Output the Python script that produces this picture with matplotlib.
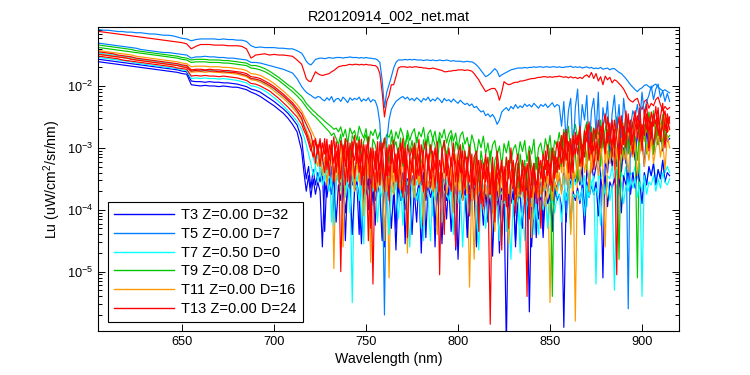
import numpy as np
import matplotlib
matplotlib.use("Agg")
import matplotlib.pyplot as plt
from matplotlib.ticker import LogLocator, NullLocator, NullFormatter

plt.rcParams['font.family'] = ['Liberation Sans', 'DejaVu Sans']
plt.rcParams['axes.unicode_minus'] = False
plt.rcParams['mathtext.default'] = 'regular'

# ---- data: log10(Lu) ----
# 605..712.5 nm every 2.5 nm (44 values), then 715..915 nm every 1.25 nm (161 values)
wavelength = np.concatenate([np.arange(605, 713, 2.5), np.arange(715, 915.01, 1.25)])

log_t5_top = [
    -1.09, -1.10, -1.10, -1.11, -1.12, -1.12, -1.13, -1.13, -1.14, -1.14,
    -1.15, -1.16, -1.16, -1.17, -1.18, -1.18, -1.19, -1.21, -1.23, -1.24,
    -1.27, -1.25, -1.24, -1.24, -1.24, -1.24, -1.25, -1.24, -1.25, -1.25,
    -1.26, -1.26, -1.28, -1.35, -1.38, -1.37, -1.38, -1.38, -1.38, -1.39,
    -1.39, -1.40, -1.40, -1.43,
    -1.47, -1.53, -1.60, -1.64, -1.66, -1.62, -1.57, -1.56,
    -1.55, -1.55, -1.56, -1.55, -1.54, -1.55, -1.55, -1.54,
    -1.54, -1.54, -1.55, -1.54, -1.54, -1.53, -1.54, -1.54,
    -1.54, -1.55, -1.54, -1.55, -1.54, -1.55, -1.55, -1.56,
    -1.56, -1.58, -1.62, -1.90, -2.35, -2.10, -1.98, -1.85,
    -1.71, -1.62, -1.58, -1.58, -1.58, -1.57, -1.58, -1.57,
    -1.58, -1.57, -1.58, -1.58, -1.58, -1.59, -1.58, -1.58,
    -1.59, -1.58, -1.59, -1.59, -1.58, -1.59, -1.59, -1.58,
    -1.59, -1.60, -1.59, -1.60, -1.60, -1.60, -1.61, -1.61,
    -1.60, -1.61, -1.61, -1.63, -1.66, -1.70, -1.75, -1.80,
    -1.85, -1.83, -1.80, -1.76, -1.72, -1.76, -1.85, -1.82,
    -1.80, -1.78, -1.76, -1.74, -1.73, -1.72, -1.71, -1.71,
    -1.71, -1.70, -1.71, -1.70, -1.70, -1.69, -1.70, -1.69,
    -1.69, -1.70, -1.69, -1.69, -1.70, -1.69, -1.69, -1.70,
    -1.69, -1.70, -1.70, -1.69, -1.69, -1.68, -1.70, -1.69,
    -1.70, -1.69, -1.71, -1.70, -1.69, -1.71, -1.70, -1.72,
    -1.71, -1.72, -1.70, -1.73, -1.72, -1.71, -1.74, -1.72,
    -1.72, -1.75, -1.78, -1.80, -1.84, -1.88, -1.93, -1.98,
    -2.02, -2.06, -2.09, -2.05, -2.03, -1.99, -1.98, -2.01,
    -2.04, -1.99, -1.97, -2.02, -2.05, -2.08, -2.06, -2.09,
    -2.11]

log_red_top = [
    -1.12, -1.13, -1.14, -1.15, -1.16, -1.17, -1.18, -1.19, -1.20, -1.21,
    -1.22, -1.23, -1.24, -1.25, -1.26, -1.27, -1.28, -1.29, -1.30, -1.32,
    -1.40, -1.36, -1.33, -1.33, -1.33, -1.34, -1.34, -1.34, -1.35, -1.35,
    -1.35, -1.36, -1.40, -1.55, -1.50, -1.49, -1.48, -1.50, -1.49, -1.50,
    -1.50, -1.51, -1.52, -1.58,
    -1.65, -1.76, -1.88, -1.92, -1.93, -1.85, -1.77, -1.80,
    -1.82, -1.83, -1.82, -1.81, -1.80, -1.77, -1.75, -1.72,
    -1.69, -1.68, -1.67, -1.67, -1.66, -1.65, -1.66, -1.65,
    -1.65, -1.66, -1.65, -1.66, -1.65, -1.66, -1.66, -1.67,
    -1.67, -1.70, -1.80, -2.10, -2.50, -2.25, -2.15, -1.98,
    -1.98, -1.85, -1.71, -1.69, -1.69, -1.69, -1.70, -1.69,
    -1.70, -1.69, -1.69, -1.70, -1.70, -1.71, -1.71, -1.72,
    -1.72, -1.71, -1.72, -1.73, -1.74, -1.75, -1.77, -1.77,
    -1.76, -1.76, -1.75, -1.75, -1.74, -1.74, -1.74, -1.75,
    -1.74, -1.75, -1.76, -1.80, -1.85, -1.90, -1.97, -2.03,
    -2.09, -2.07, -2.05, -2.04, -2.04, -2.10, -2.23, -2.10,
    -1.93, -1.96, -1.98, -1.97, -1.95, -1.94, -1.94, -1.92,
    -1.92, -1.91, -1.90, -1.89, -1.88, -1.88, -1.87, -1.86,
    -1.86, -1.85, -1.85, -1.86, -1.85, -1.86, -1.85, -1.85,
    -1.84, -1.85, -1.86, -1.85, -1.87, -1.85, -1.87, -1.86,
    -1.88, -1.86, -1.88, -1.84, -1.82, -1.86, -1.78, -1.88,
    -1.80, -1.92, -1.85, -1.98, -1.84, -1.90, -1.86, -1.95,
    -1.90, -1.92, -1.96, -2.00, -2.05, -2.12, -2.20, -2.24,
    -2.26, -2.22, -2.20, -2.32, -2.38, -2.25, -2.22, -2.36,
    -2.28, -2.32, -2.22, -2.18, -2.30, -2.40, -2.33, -2.38,
    -2.35]

log_dodger_2 = [
    -1.31, -1.32, -1.33, -1.34, -1.35, -1.36, -1.37, -1.38, -1.39, -1.41,
    -1.42, -1.43, -1.44, -1.45, -1.46, -1.46, -1.47, -1.48, -1.49, -1.50,
    -1.55, -1.53, -1.53, -1.52, -1.53, -1.53, -1.54, -1.54, -1.55, -1.55,
    -1.56, -1.57, -1.58, -1.62, -1.62, -1.63, -1.65, -1.67, -1.69, -1.71,
    -1.73, -1.76, -1.79, -1.88,
    -2.01, -2.06, -2.10, -2.13, -2.15, -2.18, -2.20, -2.17,
    -2.18, -2.22, -2.24, -2.19, -2.23, -2.17, -2.26, -2.21,
    -2.20, -2.25, -2.18, -2.22, -2.27, -2.19, -2.23, -2.20,
    -2.22, -2.18, -2.25, -2.21, -2.24, -2.19, -2.26, -2.22,
    -2.24, -2.35, -2.60, -3.30, -5.70, -2.90, -2.55, -2.38,
    -2.31, -2.25, -2.22, -2.19, -2.17, -2.21, -2.18, -2.23,
    -2.20, -2.24, -2.19, -2.22, -2.26, -2.20, -2.23, -2.18,
    -2.25, -2.21, -2.24, -2.19, -2.22, -2.27, -2.20, -2.24,
    -2.22, -2.26, -2.21, -2.25, -2.28, -2.23, -2.27, -2.30,
    -2.28, -2.32, -2.29, -2.35, -2.33, -2.38, -2.42, -2.40,
    -2.48, -2.45, -2.50, -2.46, -2.52, -2.62, -2.55, -2.42,
    -2.38, -2.35, -2.40, -2.33, -2.37, -2.30, -2.36, -2.32,
    -2.35, -2.29, -2.33, -2.30, -2.34, -2.28, -2.32, -2.36,
    -2.30, -2.33, -2.29, -2.35, -2.31, -2.27, -2.34, -2.30,
    -2.32, -2.65, -2.25, -2.90, -2.40, -2.20, -3.10, -2.35,
    -2.05, -2.80, -2.30, -2.55, -2.15, -3.05, -2.40, -2.20,
    -2.75, -2.10, -3.20, -2.35, -2.60, -2.25, -2.95, -2.45,
    -2.15, -2.70, -2.30, -2.90, -2.20, -2.55, -5.60, -2.65,
    -2.40, -2.50, -2.30, -2.60, -2.10, -2.45, -2.25, -2.15,
    -2.00, -2.22, -2.05, -1.97, -2.18, -2.08, -2.25, -2.12,
    -2.25]

log_green_a = [
    -1.34, -1.35, -1.36, -1.37, -1.38, -1.39, -1.40, -1.41, -1.43, -1.44,
    -1.45, -1.46, -1.47, -1.48, -1.49, -1.50, -1.51, -1.52, -1.54, -1.55,
    -1.58, -1.57, -1.57, -1.57, -1.58, -1.58, -1.58, -1.59, -1.59, -1.60,
    -1.61, -1.62, -1.63, -1.67, -1.67, -1.69, -1.72, -1.76, -1.81, -1.86,
    -1.92, -1.98, -2.03, -2.10,
    -2.17, -2.22, -2.28, -2.32, -2.36, -2.40, -2.43, -2.47,
    -2.50, -2.53, -2.57, -2.60, -2.63, -2.66, -2.70, -2.68,
    -2.74, -2.66, -2.82, -2.70, -2.93, -2.68, -2.78, -2.72,
    -2.88, -2.65, -2.76, -2.84, -2.69, -2.97, -2.73, -2.80,
    -2.70, -2.86, -2.75, -3.05, -2.92, -2.78, -2.83, -2.71,
    -2.94, -2.74, -2.85, -2.68, -2.79, -3.00, -2.72, -2.88,
    -2.76, -2.69, -2.91, -2.74, -2.82, -2.67, -2.95, -2.77,
    -2.71, -2.86, -2.73, -2.99, -2.75, -2.84, -2.70, -2.92,
    -2.78, -2.72, -2.89, -2.76, -3.02, -2.80, -2.74, -2.94,
    -2.83, -3.05, -2.79, -2.92, -3.15, -2.86, -3.00, -2.81,
    -3.10, -2.92, -3.20, -2.95, -2.88, -3.12, -2.97, -3.30,
    -2.93, -3.08, -2.89, -3.25, -3.02, -2.95, -3.18, -2.90,
    -3.06, -2.88, -3.22, -2.97, -3.10, -2.86, -3.35, -3.00,
    -2.92, -3.15, -2.85, -3.05, -2.80, -3.20, -2.88, -2.98,
    -2.75, -3.00, -2.70, -2.92, -2.65, -3.10, -2.78, -2.62,
    -2.85, -2.68, -3.05, -2.72, -2.58, -2.90, -2.66, -2.95,
    -2.60, -2.82, -2.55, -3.00, -2.70, -2.52, -2.88, -2.64,
    -2.78, -2.50, -2.92, -2.62, -2.85, -2.48, -3.10, -2.70,
    -2.58, -2.82, -5.10, -2.45, -2.95, -2.62, -2.75, -2.42,
    -2.68, -2.40, -2.85, -2.55, -2.72, -2.46, -2.90, -2.58,
    -2.55]

log_green_b = [
    -1.38, -1.39, -1.40, -1.41, -1.42, -1.43, -1.44, -1.45, -1.46, -1.47,
    -1.48, -1.49, -1.50, -1.51, -1.52, -1.53, -1.54, -1.55, -1.57, -1.58,
    -1.62, -1.61, -1.61, -1.61, -1.62, -1.62, -1.62, -1.63, -1.63, -1.64,
    -1.65, -1.66, -1.67, -1.71, -1.72, -1.74, -1.77, -1.81, -1.86, -1.91,
    -1.97, -2.03, -2.09, -2.16,
    -2.24, -2.29, -2.34, -2.39, -2.43, -2.47, -2.50, -2.54,
    -2.58, -2.62, -2.66, -2.70, -2.74, -2.80, -2.76, -2.85,
    -2.95, -2.78, -3.10, -2.85, -2.92, -3.20, -2.80, -2.88,
    -3.05, -2.82, -3.15, -2.90, -2.78, -3.00, -3.25, -2.86,
    -2.95, -3.15, -3.40, -3.05, -2.85, -2.98, -3.25, -2.82,
    -3.00, -2.90, -3.12, -2.84, -3.30, -2.95, -2.80, -3.08,
    -2.88, -3.18, -2.83, -2.96, -3.35, -2.87, -3.05, -2.81,
    -3.10, -2.84, -2.95, -3.30, -2.82, -3.05, -2.88, -3.15,
    -2.92, -2.80, -3.20, -2.90, -3.00, -3.40, -2.92, -3.10,
    -3.20, -2.95, -3.40, -3.25, -3.10, -3.55, -3.05, -3.30,
    -3.15, -3.45, -3.05, -3.60, -3.20, -3.10, -3.45, -3.30,
    -3.70, -3.15, -3.35, -3.05, -3.50, -3.25, -3.80, -3.10,
    -3.40, -3.20, -3.65, -3.05, -3.30, -3.55, -3.15, -3.45,
    -3.25, -3.70, -3.10, -3.35, -3.00, -5.40, -3.05, -3.40,
    -3.05, -3.30, -2.85, -3.20, -2.95, -3.40, -2.78, -3.10,
    -3.55, -2.90, -3.15, -2.80, -3.35, -2.95, -3.05, -2.75,
    -3.20, -2.85, -3.30, -2.75, -3.00, -2.70, -3.25, -2.90,
    -2.80, -3.10, -4.80, -2.85, -3.15, -2.72, -3.00, -2.78,
    -3.05, -2.82, -3.20, -2.70, -2.95, -2.65, -3.10, -2.80,
    -2.72, -3.10, -2.65, -2.95, -2.70, -3.00, -2.62, -2.85,
    -2.80]

log_red_a = [
    -1.45, -1.46, -1.47, -1.48, -1.50, -1.51, -1.52, -1.53, -1.55, -1.56,
    -1.57, -1.58, -1.59, -1.60, -1.61, -1.62, -1.63, -1.64, -1.66, -1.67,
    -1.74, -1.73, -1.73, -1.74, -1.73, -1.74, -1.74, -1.75, -1.75, -1.76,
    -1.77, -1.78, -1.80, -1.85, -1.86, -1.88, -1.92, -1.96, -2.01, -2.07,
    -2.13, -2.20, -2.27, -2.36,
    -2.45, -2.54, -2.62, -2.70, -2.78, -2.95, -2.85, -3.10,
    -2.90, -3.20, -2.85, -3.35, -2.95, -3.10, -2.82, -3.40,
    -2.95, -5.00, -3.30, -2.85, -3.55, -2.92, -3.15, -2.80,
    -3.25, -2.88, -3.60, -2.95, -3.20, -2.82, -4.30, -3.00,
    -3.35, -2.90, -3.60, -3.05, -2.84, -3.45, -2.95, -3.25,
    -2.88, -3.50, -3.00, -3.30, -2.85, -3.70, -2.95, -3.15,
    -3.40, -2.92, -3.25, -2.86, -3.55, -3.05, -2.90, -3.35,
    -2.95, -3.20, -3.65, -2.90, -5.05, -3.10, -2.88, -3.45,
    -3.00, -3.30, -2.92, -3.55, -3.10, -2.95, -3.75, -3.05,
    -3.40, -2.98, -3.65, -3.15, -3.05, -4.35, -3.20, -3.50,
    -3.10, -3.60, -5.85, -3.25, -3.70, -3.05, -3.45, -3.20,
    -3.85, -3.15, -3.50, -3.00, -3.65, -3.30, -3.10, -3.75,
    -3.20, -3.45, -5.40, -3.05, -3.60, -3.25, -3.90, -3.15,
    -3.50, -3.10, -3.35, -2.95, -3.60, -3.05, -3.25, -2.90,
    -3.15, -2.80, -3.30, -2.70, -3.05, -2.85, -3.40, -2.75,
    -2.95, -2.65, -3.20, -2.72, -2.90, -2.58, -3.10, -2.68,
    -2.85, -2.55, -3.00, -2.65, -2.45, -2.92, -2.60, -3.15,
    -2.70, -5.05, -2.80, -2.48, -2.95, -2.40, -2.75, -2.55,
    -2.90, -2.45, -2.70, -2.35, -2.85, -2.52, -2.30, -2.78,
    -2.42, -2.65, -2.33, -2.80, -2.50, -2.28, -2.72, -2.45,
    -2.60]

log_red_b = [
    -1.52, -1.53, -1.54, -1.55, -1.56, -1.58, -1.59, -1.60, -1.61, -1.62,
    -1.63, -1.64, -1.65, -1.66, -1.67, -1.68, -1.69, -1.71, -1.72, -1.73,
    -1.84, -1.83, -1.84, -1.83, -1.84, -1.84, -1.85, -1.84, -1.85, -1.86,
    -1.87, -1.89, -1.91, -1.96, -1.97, -2.00, -2.04, -2.08, -2.14, -2.20,
    -2.27, -2.34, -2.42, -2.50,
    -2.62, -2.72, -2.80, -2.92, -3.05, -2.88, -3.25, -2.95,
    -3.30, -2.92, -3.10, -2.86, -3.45, -3.00, -3.25, -2.90,
    -3.15, -3.50, -2.95, -3.30, -2.88, -3.65, -3.05, -3.20,
    -2.92, -3.40, -3.10, -3.75, -2.95, -3.25, -3.05, -5.20,
    -3.05, -3.55, -2.90, -3.30, -3.70, -3.00, -3.45, -2.95,
    -3.40, -3.10, -3.65, -2.92, -3.25, -3.05, -4.45, -3.15,
    -3.00, -3.60, -3.20, -3.45, -2.95, -3.30, -3.80, -3.10,
    -3.50, -3.05, -3.35, -3.10, -3.70, -3.00, -3.40, -3.25,
    -3.60, -3.15, -3.45, -4.60, -3.20, -3.40, -3.05, -3.55,
    -3.15, -4.10, -3.35, -3.60, -3.10, -3.45, -3.90, -3.25,
    -3.55, -3.30, -3.75, -3.15, -4.20, -3.40, -3.60, -3.30,
    -3.45, -3.95, -3.20, -3.60, -3.35, -4.05, -3.25, -3.50,
    -3.70, -3.30, -3.55, -4.15, -3.40, -3.25, -3.80, -3.35,
    -3.20, -3.60, -3.05, -3.45, -3.25, -3.70, -3.15, -3.40,
    -2.90, -3.25, -3.05, -2.80, -3.40, -2.95, -3.15, -2.85,
    -3.10, -2.75, -3.30, -2.90, -2.70, -3.20, -2.85, -3.05,
    -2.70, -3.15, -2.80, -2.60, -3.05, -2.75, -2.95, -2.55,
    -3.00, -2.72, -2.50, -3.10, -2.65, -2.88, -2.45, -2.95,
    -2.60, -2.40, -2.85, -2.55, -3.05, -2.38, -2.70, -2.50,
    -2.85, -2.45, -2.62, -2.35, -2.90, -2.55, -2.40, -2.75,
    -2.50]

log_red_c = [
    -1.49, -1.50, -1.51, -1.52, -1.53, -1.54, -1.55, -1.57, -1.58, -1.59,
    -1.60, -1.61, -1.62, -1.63, -1.64, -1.65, -1.66, -1.67, -1.69, -1.70,
    -1.76, -1.75, -1.76, -1.75, -1.76, -1.76, -1.77, -1.77, -1.78, -1.78,
    -1.79, -1.81, -1.83, -1.88, -1.89, -1.91, -1.95, -1.99, -2.04, -2.10,
    -2.16, -2.23, -2.30, -2.40,
    -2.52, -2.66, -2.75, -2.86, -2.98, -3.15, -2.90, -3.05,
    -2.85, -3.15, -3.40, -2.95, -3.20, -2.88, -3.55, -3.05,
    -3.30, -2.88, -3.10, -3.60, -3.00, -3.35, -2.90, -3.50,
    -3.05, -3.25, -2.86, -3.45, -3.10, -4.50, -3.00, -3.30,
    -3.70, -3.10, -3.35, -2.92, -3.55, -3.20, -3.85, -3.05,
    -3.25, -3.55, -3.05, -3.40, -3.80, -3.00, -3.30, -3.60,
    -3.20, -2.95, -3.50, -3.10, -3.40, -3.70, -3.05, -3.25,
    -3.65, -3.30, -3.00, -3.55, -3.20, -3.45, -4.40, -3.10,
    -3.35, -3.70, -3.10, -3.25, -3.55, -3.00, -3.40, -3.65,
    -3.30, -3.55, -3.10, -3.85, -3.40, -3.20, -3.60, -3.95,
    -3.40, -3.15, -3.65, -3.35, -3.90, -3.25, -3.50, -4.65,
    -3.30, -3.60, -4.30, -3.40, -3.20, -3.75, -3.45, -3.60,
    -3.35, -3.90, -3.25, -3.50, -3.80, -3.30, -3.60, -3.45,
    -4.30, -3.30, -3.55, -3.20, -3.40, -3.00, -3.50, -3.15,
    -3.35, -3.00, -2.75, -3.20, -2.90, -3.50, -2.80, -3.10,
    -2.80, -3.30, -2.95, -3.15, -2.62, -3.00, -2.75, -3.35,
    -2.90, -3.20, -2.65, -2.85, -3.10, -2.50, -2.80, -2.95,
    -2.55, -2.85, -3.20, -2.60, -2.78, -3.00, -2.52, -2.70,
    -3.10, -2.68, -2.48, -2.90, -2.62, -2.80, -2.45, -3.05,
    -2.58, -2.95, -2.70, -2.48, -2.82, -2.62, -3.00, -2.52,
    -2.70]

log_orange_a = [
    -1.43, -1.44, -1.45, -1.46, -1.47, -1.48, -1.49, -1.50, -1.52, -1.53,
    -1.54, -1.55, -1.56, -1.57, -1.58, -1.59, -1.60, -1.61, -1.63, -1.64,
    -1.69, -1.68, -1.68, -1.68, -1.69, -1.69, -1.69, -1.70, -1.70, -1.71,
    -1.72, -1.73, -1.75, -1.80, -1.81, -1.83, -1.87, -1.91, -1.96, -2.02,
    -2.08, -2.15, -2.22, -2.30,
    -2.40, -2.48, -2.55, -2.62, -2.70, -2.78, -2.86, -3.00,
    -2.90, -3.15, -2.95, -3.30, -3.05, -2.92, -4.95, -3.10,
    -3.40, -2.95, -3.25, -3.05, -3.55, -3.00, -3.20, -3.70,
    -3.00, -3.35, -3.10, -2.95, -3.50, -3.15, -4.85, -3.05,
    -3.30, -3.05, -3.60, -3.20, -3.45, -3.00, -5.10, -3.25,
    -3.55, -3.10, -3.35, -3.80, -3.05, -3.40, -3.20, -3.65,
    -3.15, -3.45, -3.00, -3.70, -3.25, -3.10, -3.55, -3.30,
    -3.05, -3.60, -3.20, -3.40, -3.85, -3.15, -3.35, -3.05,
    -3.50, -3.25, -3.70, -3.10, -3.45, -3.90, -3.20, -3.40,
    -3.35, -5.25, -3.55, -3.15, -3.75, -3.30, -3.50, -3.90,
    -3.25, -3.60, -3.40, -4.05, -3.30, -3.70, -3.45, -3.20,
    -3.65, -3.35, -3.85, -3.50, -3.25, -4.10, -3.45, -3.70,
    -3.40, -3.75, -3.30, -3.60, -3.95, -3.35, -3.55, -3.80,
    -3.45, -3.25, -3.65, -3.35, -5.50, -3.50, -3.20, -3.55,
    -3.10, -3.40, -2.95, -3.25, -3.50, -3.00, -3.30, -5.80,
    -3.05, -2.85, -3.30, -2.95, -3.15, -2.75, -3.40, -2.90,
    -3.20, -2.80, -3.05, -2.70, -3.25, -2.90, -2.65, -3.10,
    -2.85, -3.15, -2.70, -2.95, -2.60, -3.20, -2.80, -2.68,
    -3.00, -2.75, -2.58, -3.10, -2.70, -2.90, -2.55, -2.85,
    -2.65, -3.05, -2.55, -2.80, -2.60, -2.95, -2.50, -2.75,
    -2.70]

log_orange_b = [
    -1.49, -1.50, -1.51, -1.52, -1.53, -1.54, -1.55, -1.56, -1.58, -1.59,
    -1.60, -1.61, -1.62, -1.63, -1.64, -1.65, -1.66, -1.67, -1.69, -1.70,
    -1.78, -1.77, -1.77, -1.78, -1.77, -1.78, -1.78, -1.79, -1.79, -1.80,
    -1.81, -1.83, -1.85, -1.90, -1.91, -1.94, -1.98, -2.02, -2.08, -2.14,
    -2.20, -2.27, -2.35, -2.44,
    -2.55, -2.64, -2.72, -2.80, -2.90, -3.00, -3.15, -3.30,
    -3.05, -3.45, -3.15, -3.60, -3.20, -3.05, -3.50, -3.25,
    -3.55, -3.15, -4.60, -3.30, -3.10, -3.50, -3.25, -3.70,
    -3.20, -3.55, -3.30, -4.10, -3.25, -3.45, -3.15, -3.65,
    -3.40, -3.70, -3.25, -3.55, -4.50, -3.30, -3.60, -3.35,
    -3.75, -3.30, -3.55, -3.20, -3.70, -3.40, -4.70, -3.30,
    -3.50, -3.80, -3.35, -3.60, -3.25, -4.25, -3.45, -3.65,
    -3.35, -3.70, -3.50, -4.40, -3.40, -3.60, -3.30, -3.75,
    -3.55, -3.35, -4.05, -3.50, -3.70, -3.35, -3.85, -3.55,
    -3.75, -3.45, -3.65, -4.80, -3.50, -3.70, -3.40, -4.00,
    -3.60, -3.85, -3.50, -3.70, -4.35, -3.55, -3.80, -3.45,
    -3.85, -3.60, -4.55, -3.70, -3.50, -3.95, -3.65, -3.80,
    -3.55, -3.90, -3.70, -3.50, -4.45, -3.60, -3.80, -3.55,
    -3.75, -3.45, -3.95, -3.60, -3.40, -3.85, -3.55, -3.70,
    -3.40, -3.75, -3.25, -3.60, -3.10, -4.40, -3.30, -3.50,
    -3.20, -3.55, -3.05, -3.40, -3.15, -3.70, -3.00, -3.35,
    -3.10, -3.45, -2.95, -3.30, -4.60, -3.05, -3.25, -2.90,
    -3.35, -3.00, -3.50, -2.85, -3.20, -3.05, -3.40, -2.95,
    -3.15, -2.90, -3.45, -3.05, -2.80, -3.30, -2.95, -3.20,
    -2.85, -3.25, -3.00, -2.75, -3.15, -2.90, -3.35, -2.80,
    -3.00]

log_cyan_a = [
    -1.47, -1.48, -1.49, -1.50, -1.51, -1.52, -1.53, -1.54, -1.56, -1.57,
    -1.58, -1.59, -1.60, -1.61, -1.62, -1.63, -1.64, -1.65, -1.67, -1.68,
    -1.76, -1.75, -1.75, -1.76, -1.75, -1.76, -1.76, -1.77, -1.77, -1.78,
    -1.79, -1.81, -1.83, -1.88, -1.89, -1.92, -1.96, -2.00, -2.05, -2.11,
    -2.17, -2.24, -2.32, -2.41,
    -2.52, -2.62, -2.70, -2.82, -2.95, -3.15, -3.30, -3.10,
    -3.40, -3.20, -3.55, -3.30, -3.15, -4.20, -3.30, -3.50,
    -3.35, -3.55, -3.25, -3.70, -3.40, -3.50, -5.50, -3.30,
    -3.55, -3.35, -4.30, -3.30, -3.60, -3.40, -3.50, -3.35,
    -3.65, -3.40, -3.50, -4.45, -3.35, -3.60, -3.45, -3.70,
    -3.45, -3.65, -3.35, -3.55, -4.25, -3.45, -3.60, -3.40,
    -3.70, -3.45, -3.60, -3.40, -3.75, -4.50, -3.35, -3.65,
    -3.55, -4.10, -3.45, -3.65, -3.40, -3.80, -3.50, -3.60,
    -3.45, -3.70, -4.40, -3.55, -3.65, -3.45, -3.75, -3.50,
    -3.70, -3.50, -3.85, -3.60, -4.55, -3.55, -3.75, -3.60,
    -3.80, -3.60, -3.70, -4.60, -3.55, -3.85, -3.65, -3.75,
    -3.60, -4.35, -3.70, -3.55, -3.90, -3.65, -3.80, -4.70,
    -3.70, -3.60, -3.85, -3.65, -3.55, -4.40, -3.75, -3.65,
    -3.85, -3.60, -3.70, -4.25, -3.65, -3.80, -3.55, -3.75,
    -3.55, -3.70, -3.45, -4.05, -3.50, -3.65, -3.40, -3.60,
    -3.50, -3.35, -3.65, -3.45, -3.95, -3.40, -3.60, -3.45,
    -5.20, -3.40, -3.55, -3.35, -3.70, -3.45, -3.50, -3.30,
    -3.55, -3.35, -3.65, -3.40, -3.50, -3.30, -3.60, -3.40,
    -3.45, -3.30, -3.50, -3.25, -5.40, -3.40, -3.55, -3.35,
    -3.45, -3.25, -3.55, -3.35, -3.50, -3.20, -3.40, -3.30,
    -3.40]

log_cyan_b = [
    -1.54, -1.55, -1.56, -1.57, -1.58, -1.59, -1.60, -1.61, -1.63, -1.64,
    -1.65, -1.66, -1.67, -1.68, -1.69, -1.70, -1.71, -1.72, -1.74, -1.75,
    -1.88, -1.87, -1.88, -1.87, -1.88, -1.88, -1.89, -1.88, -1.89, -1.90,
    -1.91, -1.93, -1.95, -2.00, -2.01, -2.04, -2.08, -2.13, -2.19, -2.25,
    -2.32, -2.40, -2.48, -2.57,
    -2.70, -2.82, -2.95, -3.10, -3.25, -3.45, -3.30, -3.55,
    -3.35, -3.60, -3.45, -3.30, -3.70, -3.50, -4.25, -3.55,
    -3.45, -3.70, -3.40, -3.80, -3.55, -4.05, -3.45, -3.65,
    -3.60, -3.85, -3.50, -4.55, -3.55, -3.75, -3.60, -3.70,
    -3.55, -4.20, -3.65, -3.80, -3.60, -3.70, -4.40, -3.65,
    -3.75, -3.60, -4.15, -3.70, -3.85, -3.55, -3.80, -4.60,
    -3.70, -3.60, -3.85, -3.65, -4.30, -3.75, -3.60, -3.80,
    -4.50, -3.70, -3.85, -3.65, -3.80, -4.20, -3.70, -3.75,
    -3.85, -3.65, -4.35, -3.75, -3.90, -3.70, -4.60, -3.80,
    -3.75, -4.10, -3.85, -3.70, -3.95, -4.65, -3.80, -3.90,
    -4.30, -3.85, -3.75, -4.00, -3.80, -3.95, -4.50, -3.85,
    -3.90, -3.80, -4.05, -4.80, -3.85, -3.95, -3.80, -4.25,
    -3.95, -4.50, -3.85, -4.00, -3.80, -4.15, -3.90, -4.40,
    -3.85, -4.00, -3.80, -4.30, -3.90, -3.85, -4.05, -3.80,
    -3.75, -4.20, -3.70, -3.85, -3.65, -4.35, -3.75, -3.80,
    -3.70, -3.85, -3.65, -4.10, -3.60, -3.80, -3.55, -3.75,
    -3.65, -3.80, -4.25, -3.60, -3.75, -3.55, -3.85, -3.60,
    -5.30, -3.60, -3.75, -3.55, -3.90, -3.60, -3.70, -3.50,
    -3.65, -3.50, -3.80, -3.55, -3.70, -3.45, -3.75, -3.55,
    -3.60, -3.45, -3.70, -3.50, -3.65, -3.40, -3.55, -3.60,
    -3.50]

log_blue_a = [
    -1.57, -1.58, -1.59, -1.60, -1.61, -1.62, -1.63, -1.64, -1.65, -1.66,
    -1.67, -1.68, -1.69, -1.70, -1.71, -1.72, -1.73, -1.74, -1.76, -1.77,
    -1.92, -1.93, -1.93, -1.94, -1.93, -1.94, -1.94, -1.95, -1.95, -1.96,
    -1.97, -1.99, -2.01, -2.05, -2.07, -2.10, -2.15, -2.20, -2.25, -2.31,
    -2.37, -2.44, -2.53, -2.63,
    -2.85, -3.20, -3.50, -3.30, -3.65, -3.35, -3.60, -3.40,
    -3.55, -3.35, -4.35, -3.45, -3.60, -3.30, -4.10, -3.50,
    -3.40, -3.65, -3.35, -4.50, -3.50, -3.30, -3.60, -3.45,
    -3.55, -4.40, -3.40, -3.60, -3.35, -4.00, -3.50, -3.65,
    -4.25, -3.45, -3.60, -3.35, -4.60, -3.50, -3.70, -3.40,
    -3.55, -4.30, -3.45, -3.65, -3.40, -4.55, -3.50, -3.75,
    -3.45, -3.70, -4.20, -3.50, -3.60, -3.40, -4.45, -3.55,
    -3.65, -3.45, -4.60, -3.55, -3.70, -3.40, -3.60, -4.15,
    -3.50, -3.75, -3.45, -4.65, -3.60, -3.40, -3.70, -3.55,
    -4.30, -3.60, -3.75, -3.50, -4.50, -3.65, -3.45, -3.80,
    -3.60, -4.20, -3.70, -3.55, -3.85, -3.60, -4.70, -3.65,
    -3.75, -3.55, -4.40, -3.70, -3.60, -4.60, -3.65, -3.80,
    -3.60, -3.85, -3.55, -5.65, -3.70, -3.50, -4.45, -3.65,
    -3.55, -4.25, -3.50, -3.70, -3.45, -4.35, -3.55, -3.65,
    -3.45, -3.70, -3.40, -4.20, -3.45, -3.60, -3.35, -3.55,
    -3.40, -3.60, -3.30, -4.10, -3.35, -3.55, -3.25, -3.50,
    -3.30, -3.10, -3.45, -5.10, -3.20, -3.40, -2.95, -3.30,
    -3.05, -3.30, -2.85, -3.40, -3.00, -3.25, -2.80, -3.15,
    -2.90, -3.20, -2.75, -3.05, -2.85, -3.30, -2.70, -3.00,
    -2.80, -3.10, -2.72, -2.95, -2.65, -3.05, -2.78, -2.90,
    -2.85]

log_blue_b = [
    -1.61, -1.62, -1.63, -1.64, -1.65, -1.66, -1.67, -1.68, -1.69, -1.70,
    -1.71, -1.72, -1.73, -1.74, -1.75, -1.76, -1.77, -1.78, -1.80, -1.81,
    -1.98, -1.99, -2.00, -1.99, -2.00, -2.00, -2.01, -2.00, -2.01, -2.02,
    -2.02, -2.04, -2.06, -2.10, -2.13, -2.17, -2.22, -2.27, -2.32, -2.38,
    -2.44, -2.52, -2.62, -2.74,
    -3.05, -3.40, -3.70, -3.45, -3.80, -3.50, -3.75, -3.55,
    -3.70, -4.60, -3.55, -3.80, -3.50, -3.75, -3.45, -4.20,
    -3.60, -3.85, -3.50, -4.05, -3.65, -3.55, -4.40, -3.70,
    -3.55, -3.80, -4.55, -3.65, -3.75, -3.50, -4.10, -3.70,
    -3.85, -3.60, -3.75, -4.50, -3.55, -3.80, -3.65, -4.30,
    -3.70, -4.65, -3.60, -3.85, -3.55, -4.00, -3.75, -3.60,
    -4.40, -3.65, -3.80, -3.55, -4.70, -3.70, -3.85, -3.60,
    -3.80, -3.65, -4.25, -3.75, -3.60, -4.55, -3.70, -3.85,
    -3.65, -4.35, -3.75, -3.60, -4.80, -3.70, -3.85, -3.65,
    -4.45, -3.75, -3.90, -3.65, -4.60, -3.80, -3.70, -4.25,
    -3.75, -3.90, -3.65, -4.75, -3.80, -3.70, -3.95, -4.40,
    -3.80, -6.20, -3.75, -3.90, -3.70, -4.50, -3.85, -3.75,
    -4.30, -3.80, -3.95, -3.70, -4.60, -3.85, -3.75, -4.15,
    -3.80, -4.45, -3.70, -3.90, -3.75, -4.30, -3.65, -3.85,
    -3.75, -3.95, -5.90, -3.80, -3.65, -4.20, -3.70, -3.85,
    -3.65, -3.90, -3.60, -4.40, -3.55, -3.80, -3.60, -3.75,
    -3.55, -4.10, -3.50, -3.70, -3.45, -3.95, -3.55, -3.65,
    -3.50, -3.70, -3.40, -4.05, -3.45, -3.60, -3.35, -3.75,
    -3.40, -3.65, -3.35, -3.55, -3.90, -3.40, -3.60, -3.30,
    -3.45, -3.25, -3.60, -3.35, -3.50, -3.20, -3.55, -3.40,
    -3.45]

legend_labels = ["T3 Z=0.00 D=32", "T5 Z=0.00 D=7", "T7 Z=0.50 D=0",
                 "T9 Z=0.08 D=0", "T11 Z=0.00 D=16", "T13 Z=0.00 D=24"]

c_blue, c_dodger, c_cyan = '#0000ff', '#0080ff', '#00ffff'
c_green, c_orange, c_red = '#00c800', '#ff9900', '#ff0000'

series = [
    (log_blue_a, c_blue, legend_labels[0]),
    (log_t5_top, c_dodger, legend_labels[1]),
    (log_cyan_a, c_cyan, legend_labels[2]),
    (log_green_a, c_green, legend_labels[3]),
    (log_orange_a, c_orange, legend_labels[4]),
    (log_red_top, c_red, legend_labels[5]),
    (log_blue_b, c_blue, None),
    (log_dodger_2, c_dodger, None),
    (log_cyan_b, c_cyan, None),
    (log_green_b, c_green, None),
    (log_orange_b, c_orange, None),
    (log_red_a, c_red, None),
    (log_red_c, c_red, None),
    (log_red_b, c_red, None),
]

for vals, col, lab in series:
    if len(vals) != len(wavelength):
        raise SystemExit(f"length mismatch {lab} {col}: {len(vals)} vs {len(wavelength)}")

fig = plt.figure(figsize=(7.5, 3.75), dpi=100)
ax = fig.add_axes([98/750, 1-331/375, 581/750, 304/375])

for vals, col, lab in series:
    ax.plot(wavelength, 10 ** np.array(vals), color=col, lw=0.85,
            label=lab if lab else '_nolegend_')

ax.set_yscale('log')
ax.set_xlim(604.3, 920.1)
ax.set_ylim(1.1e-6, 0.0897)
ax.set_xticks([650, 700, 750, 800, 850, 900])
ax.xaxis.set_minor_locator(NullLocator())
ax.yaxis.set_major_locator(LogLocator(base=10, numticks=20))
ax.yaxis.set_minor_locator(LogLocator(base=10, subs=np.arange(2, 10), numticks=20))
ax.yaxis.set_minor_formatter(NullFormatter())
ax.tick_params(which='both', direction='in', top=True, right=True,
               labelsize=9.2, width=0.7)
ax.tick_params(which='major', length=5)
ax.tick_params(which='minor', length=3)
for s in ax.spines.values():
    s.set_linewidth(0.8)

ax.set_title('R20120914_002_net.mat', fontsize=10.4, pad=5)
ax.set_xlabel('Wavelength (nm)', fontsize=10.2, labelpad=3)
ax.set_ylabel('Lu (uW/cm$^2$/sr/nm)', fontsize=10.2, labelpad=3)

leg = ax.legend(loc='lower left', bbox_to_anchor=(0.017, 0.03), borderaxespad=0,
                fontsize=10.5, handlelength=4.1, handletextpad=0.5,
                labelspacing=0.32, borderpad=0.42, fancybox=False,
                edgecolor='black', framealpha=1)
leg.get_frame().set_linewidth(0.8)
for line in leg.get_lines():
    line.set_linewidth(1.0)

fig.savefig('out.png', dpi=100)
